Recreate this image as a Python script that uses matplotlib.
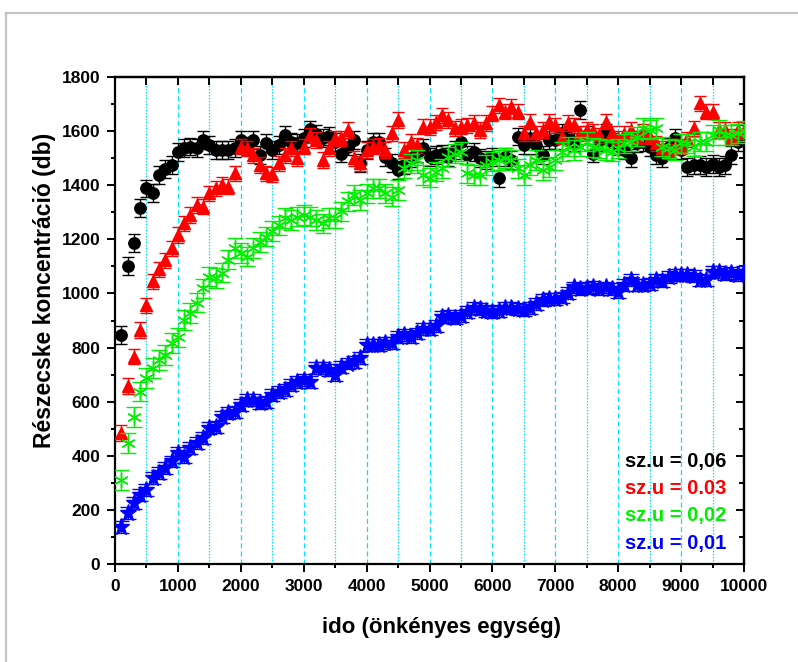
import numpy as np
import matplotlib
matplotlib.use("Agg")
import matplotlib.pyplot as plt
from matplotlib.lines import Line2D

plt.rcParams['font.family'] = ['Liberation Sans', 'DejaVu Sans']
plt.rcParams['font.weight'] = 'bold'

# ---------------- data ----------------
time = list(range(100, 10001, 100))

black_006 = [846, 1101, 1185, 1317, 1388, 1370, 1438, 1459, 1475, 1524,
             1536, 1543, 1536, 1567, 1548, 1530, 1530, 1530, 1536, 1567,
             1545, 1567, 1511, 1555, 1530, 1550, 1585, 1561, 1555, 1575,
             1606, 1590, 1573, 1582, 1560, 1517, 1543, 1567, 1481, 1530,
             1561, 1561, 1505, 1481, 1456, 1475, 1500, 1520, 1536, 1505,
             1511, 1517, 1505, 1530, 1561, 1511, 1524, 1500, 1493, 1505,
             1425, 1505, 1493, 1580, 1548, 1573, 1548, 1511, 1567, 1567,
             1592, 1580, 1560, 1678, 1585, 1517, 1560, 1592, 1560, 1545,
             1530, 1500, 1555, 1561, 1540, 1511, 1500, 1540, 1573, 1530,
             1468, 1475, 1475, 1466, 1480, 1468, 1475, 1511, 1561, 1590]

red_003 = [484, 658, 766, 865, 957, 1045, 1090, 1123, 1167, 1216,
           1259, 1290, 1327, 1320, 1370, 1388, 1401, 1394, 1444, 1543,
           1536, 1511, 1475, 1444, 1440, 1481, 1511, 1536, 1500, 1543,
           1585, 1567, 1493, 1536, 1573, 1573, 1604, 1500, 1481, 1530,
           1543, 1548, 1530, 1592, 1641, 1530, 1561, 1548, 1617, 1615,
           1632, 1659, 1641, 1611, 1617, 1622, 1630, 1604, 1630, 1665,
           1696, 1672, 1690, 1672, 1592, 1635, 1592, 1604, 1635, 1622,
           1580, 1630, 1622, 1592, 1604, 1600, 1585, 1635, 1592, 1573,
           1590, 1604, 1573, 1598, 1580, 1555, 1536, 1524, 1543, 1543,
           1570, 1611, 1703, 1672, 1672, 1604, 1604, 1580, 1604, 1600]

green_002 = [310, 448, 544, 637, 687, 724, 754, 772, 816, 838,
             902, 927, 966, 1019, 1062, 1057, 1077, 1125, 1168, 1149,
             1136, 1168, 1191, 1210, 1230, 1252, 1278, 1271, 1284, 1290,
             1284, 1271, 1259, 1278, 1278, 1303, 1340, 1364, 1345, 1370,
             1388, 1388, 1370, 1358, 1382, 1462, 1481, 1493, 1438, 1428,
             1450, 1462, 1505, 1517, 1524, 1444, 1438, 1438, 1475, 1487,
             1493, 1500, 1493, 1462, 1438, 1475, 1493, 1456, 1468, 1493,
             1524, 1543, 1530, 1543, 1561, 1540, 1536, 1530, 1524, 1536,
             1555, 1561, 1580, 1611, 1605, 1611, 1543, 1536, 1530, 1555,
             1555, 1543, 1561, 1561, 1585, 1605, 1585, 1585, 1592, 1600]

blue_001 = [138, 188, 225, 255, 273, 317, 336, 355, 379, 409,
            396, 428, 447, 465, 502, 508, 544, 557, 563, 588,
            606, 606, 594, 600, 624, 636, 643, 661, 673, 680,
            673, 724, 724, 717, 698, 729, 741, 747, 760, 809,
            809, 809, 816, 816, 840, 846, 840, 852, 870, 868,
            880, 912, 915, 910, 918, 930, 945, 942, 935, 930,
            935, 945, 948, 942, 940, 945, 960, 975, 980, 978,
            985, 1000, 1022, 1018, 1020, 1025, 1018, 1022, 1015, 1006,
            1030, 1050, 1032, 1030, 1035, 1050, 1045, 1062, 1068, 1070,
            1068, 1065, 1050, 1048, 1078, 1080, 1072, 1075, 1068, 1078]

err_black = 33
err_red = 28
err_green = 36
err_blue = 22

legend_labels = ["sz.u = 0,06", "sz.u = 0.03", "sz.u = 0,02", "sz.u = 0,01"]
x_label = "ido (önkényes egység)"
y_label = "Részecske koncentráció (db)"

# ---------------- figure ----------------
W, H = 798, 662
fig = plt.figure(figsize=(W / 100, H / 100), dpi=100)
fig.patch.set_facecolor('white')

# grey frame
fig.add_artist(Line2D([6 / W, 6 / W], [0, 1 - 13 / H], transform=fig.transFigure,
                      color='#c4c4c4', lw=1.6))
fig.add_artist(Line2D([6 / W, 1], [1 - 13 / H, 1 - 13 / H], transform=fig.transFigure,
                      color='#c4c4c4', lw=1.6))

L, R, B, T = 115, 744, 564, 77
ax = fig.add_axes([L / W, 1 - B / H, (R - L) / W, (B - T) / H])

# grid
for gx in range(500, 10000, 500):
    if gx % 1000 == 0:
        ax.axvline(gx, color='#00e5ff', lw=0.9, ls=(0, (4, 2.5)), zorder=0)
    else:
        ax.axvline(gx, color='#00e5ff', lw=0.9, ls=(0, (1.2, 1.2)), zorder=0)

common = dict(linestyle='none', elinewidth=1.0, capthick=1.0)
ax.errorbar(time, black_006, yerr=err_black, fmt='o', color='black', ms=8.2,
            capsize=4.5, zorder=3, **common)
ax.errorbar(time, red_003, yerr=err_red, fmt='^', color='#ff0000', ms=9.2,
            capsize=4.5, zorder=4, **common)
ax.errorbar(time, green_002, yerr=err_green, marker=(6, 2, 0), color='#00ee00',
            ms=10.5, mew=1.0, capsize=5.5, zorder=5, **common)
ax.errorbar(time, blue_001, yerr=err_blue, fmt='*', color='#0000ff', ms=12.5,
            capsize=5.5, zorder=6, **common)

ax.set_xlim(0, 10000)
ax.set_ylim(0, 1800)
ax.set_xticks(range(0, 10001, 1000))
ax.set_xticks(range(500, 10000, 1000), minor=True)
ax.set_yticks(range(0, 1801, 200))
ax.set_yticks(range(100, 1800, 200), minor=True)

for sp in ax.spines.values():
    sp.set_linewidth(1.6)

ax.tick_params(which='major', direction='out', length=5.5, width=1.4,
               labelsize=12.5, pad=5)
ax.tick_params(which='minor', direction='out', length=3.2, width=1.4)
for lab in ax.get_xticklabels() + ax.get_yticklabels():
    lab.set_fontweight('bold')

# top / right inward ticks
top = ax.secondary_xaxis('top')
top.set_xticks(range(0, 10001, 1000))
top.set_xticks(range(500, 10000, 1000), minor=True)
top.tick_params(which='major', direction='in', length=5.5, width=1.4, labeltop=False)
top.tick_params(which='minor', direction='in', length=5.5, width=1.4)
top.spines['top'].set_linewidth(1.6)
right = ax.secondary_yaxis('right')
right.set_yticks(range(0, 1801, 200))
right.set_yticks(range(100, 1800, 200), minor=True)
right.tick_params(which='major', direction='in', length=6, width=1.4, labelright=False)
right.tick_params(which='minor', direction='in', length=3.5, width=1.4)
right.spines['right'].set_linewidth(1.6)

fig.text(442 / W, 1 - 628 / H, x_label, ha='center', va='center',
         fontsize=16, fontweight='bold')
fig.text(45 / W, 1 - 290 / H, y_label, ha='center', va='center', rotation=90,
         fontsize=16.5, fontweight='bold')

colors = ['black', '#ff0000', '#00ee00', '#0000ff']
ys = [461, 489, 516, 543]
for lab, c, yy in zip(legend_labels, colors, ys):
    fig.text(726 / W, 1 - yy / H, lab, ha='right', va='center', color=c,
             fontsize=14.5, fontweight='bold')

fig.savefig('out.png', dpi=100, facecolor='white')
